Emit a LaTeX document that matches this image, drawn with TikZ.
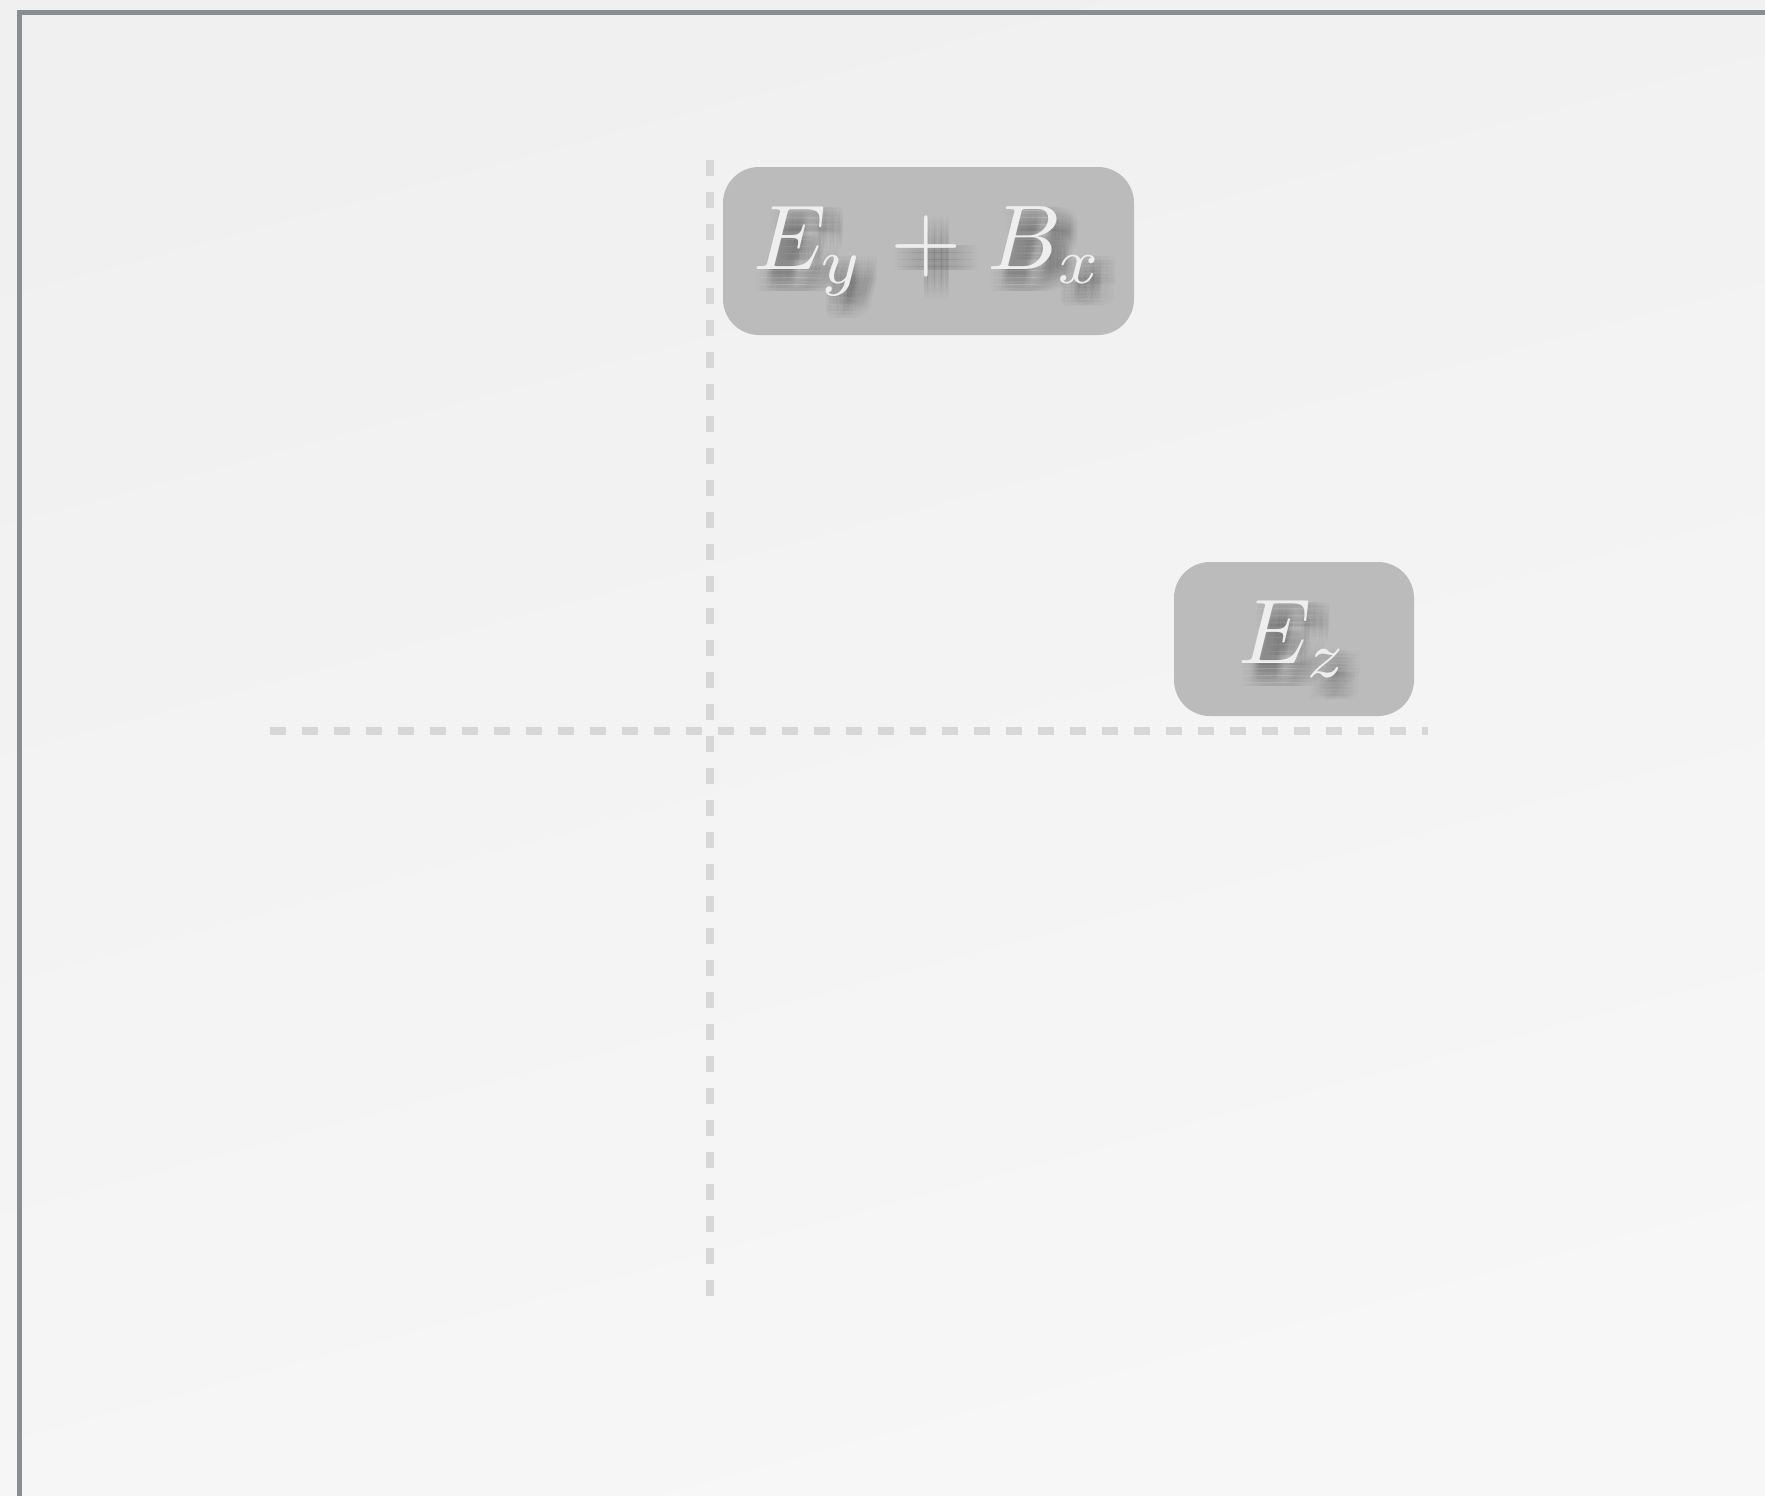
\documentclass[tikz,border=0pt]{standalone}
\usepackage{graphicx}
\usetikzlibrary{calc}
\definecolor{bgA}{HTML}{F0F0F0}
\definecolor{bgB}{HTML}{F7F7F7}
\definecolor{framec}{HTML}{8A8D91}
\definecolor{dashc}{HTML}{D7D7D7}
\definecolor{boxc}{HTML}{BBBBBB}
\definecolor{txtc}{HTML}{EEEEEE}
\newcommand{\eylab}{\scalebox{9.2}{$E_y\mkern1mu+\mkern1mu B_x$}}
\newcommand{\ezlab}{\scalebox{9.2}{$E_z$}}
\newsavebox{\shbox}
\newcommand{\softshadow}[1]{%
  \sbox{\shbox}{\color{black}#1}%
  \pgfsetfillopacity{0.014}%
  \foreach \dx in {-10.5,-7,-3.5,0,3.5,7,10.5}{%
    \foreach \dy in {-10.5,-7,-3.5,0,3.5,7,10.5}{%
      \rlap{\smash{\kern\dimexpr\dx pt+10pt\relax\raisebox{\dimexpr-\dy pt-12pt\relax}{\usebox{\shbox}}}}%
    }%
  }%
  \pgfsetfillopacity{1}%
  {\color{txtc}#1}}
\begin{document}
\begin{tikzpicture}[x=1pt,y=-1pt,
  labelbox/.style={rounded corners=36pt, fill=boxc, inner sep=0pt},
  axisline/.style={draw=dashc, line width=8pt, dash pattern=on 16pt off 16pt},
  labeltext/.style={text=txtc, inner sep=0pt}]
\useasboundingbox (0,0) rectangle (1765,1496);
\shade[top color=bgA, bottom color=bgB, shading angle=15] (0,0) rectangle (1765,1496);
\draw[framec, line width=5pt] (19.5,12.7) rectangle (1800,1540);
% axes
\coordinate (vtop) at (710,160);
\coordinate (vbot) at (710,1296);
\coordinate (hleft) at (270,731);
\coordinate (hright) at (1428,731);
\draw[axisline] (vtop) -- (vbot);
\draw[axisline] (hleft) -- (hright);
% boxes
\node[labelbox, minimum width=411pt, minimum height=168pt] (eybox) at (928.5,251) {};
\node[labelbox, minimum width=240pt, minimum height=154pt] (ezbox) at (1294,639) {};
% texts with soft shadow
\node[labeltext] (eytext) at (eybox.center) {\softshadow{\eylab}};
\node[labeltext] (eztext) at (ezbox.center) {\softshadow{\ezlab}};
\end{tikzpicture}
\end{document}
